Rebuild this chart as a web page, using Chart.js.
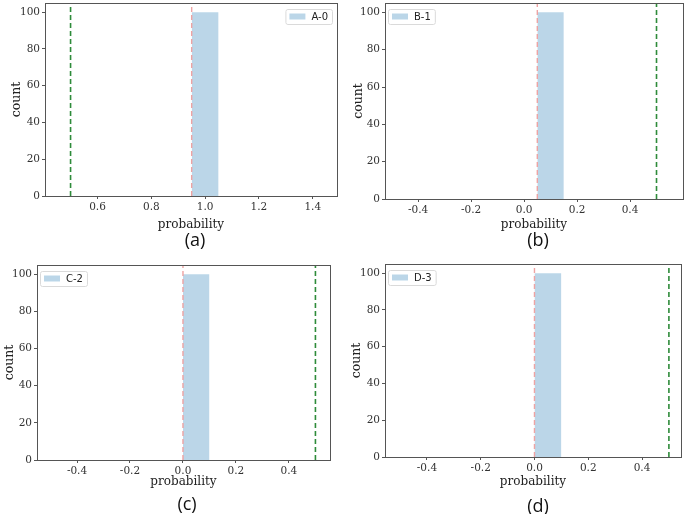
<!DOCTYPE html>
<html><head><meta charset="utf-8">
<script src="https://cdn.jsdelivr.net/npm/chart.js@4"></script>
<style>
html,body{margin:0;padding:0;background:#fff;}
#wrap{position:relative;width:685px;height:514px;overflow:hidden;}
canvas{position:absolute;}
.cap{position:absolute;font-family:"Open Sans",sans-serif;font-size:18px;color:#111;transform:translate(-50%,-50%);}
</style></head>
<body><div id="wrap"></div>
<script>
// ---- data ----
const panelNames = ['A-0', 'B-1', 'C-2', 'D-3'];
const captions = ['(a)', '(b)', '(c)', '(d)'];
const binLeft = [0.95, 0.05, 0.0, 0.0];
const binRight = [1.05, 0.15, 0.1, 0.1];
const binCounts = [100, 100, 100, 100];
const redLineX = [0.95, 0.05, 0.0, 0.0];
const greenLineX = [0.5, 0.5, 0.5, 0.5];
const xTicksA = [0.6, 0.8, 1.0, 1.2, 1.4];
const xTicksBCD = [-0.4, -0.2, 0.0, 0.2, 0.4];
const yTicks = [0, 20, 40, 60, 80, 100];
const xMin = [0.405, -0.525, -0.551, -0.556];
const xMax = [1.49, 0.60, 0.555, 0.545];
const yMax = 105;

// ---- layout (styling only) ----
const layout = [
  {left:0,   top:0,   w:342, h:232, yW:45, pt:3, pr:5, xH:36, titlePad:9, legendRight:true,  cap:[195,239]},
  {left:342, top:0,   w:343, h:232, yW:43, pt:3, pr:2, xH:33, titlePad:9, legendRight:false, cap:[538,239]},
  {left:0,   top:257, w:342, h:232, yW:37, pt:8, pr:12, xH:29, titlePad:2, legendRight:false, cap:[187,503]},
  {left:342, top:257, w:343, h:232, yW:43, pt:7, pr:4, xH:32, titlePad:7, legendRight:false, cap:[538,505]}
];

const frameColor = '#555';
const tickColor = '#333';

const framePlugin = {
  id:'frame',
  afterDraw(chart){
    const {ctx, chartArea:a} = chart;
    ctx.save();
    ctx.strokeStyle = frameColor; ctx.lineWidth = 1;
    ctx.strokeRect(Math.round(a.left)+0.5, Math.round(a.top)+0.5, Math.round(a.right-a.left), Math.round(a.bottom-a.top));
    // legend
    const o = chart.options.plugins.miniLegend;
    ctx.font = '10px "DejaVu Sans", sans-serif';
    const tw = ctx.measureText(o.text).width;
    const bw = 4 + 16 + 6 + tw + 4, bh = 15;
    const bx = o.right ? a.right - 5 - bw : a.left + 3;
    const by = a.top + 6;
    ctx.fillStyle = 'rgba(255,255,255,0.8)';
    ctx.strokeStyle = '#dadada';
    ctx.beginPath();
    if (ctx.roundRect) ctx.roundRect(bx+0.5, by+0.5, bw, bh, 2); else ctx.rect(bx+0.5, by+0.5, bw, bh);
    ctx.fill(); ctx.stroke();
    ctx.fillStyle = o.color;
    ctx.fillRect(bx+4, by+4.5, 16, 6);
    ctx.fillStyle = '#222';
    ctx.textBaseline = 'middle';
    ctx.fillText(o.text, bx+4+16+6, by+bh/2+1);
    ctx.restore();
  }
};

const wrap = document.getElementById('wrap');
const barColor = 'rgba(31,119,180,0.3)';
const serif = '"DejaVu Serif", serif';

for (let i = 0; i < 4; i++) {
  const L = layout[i];
  const cv = document.createElement('canvas');
  cv.width = L.w; cv.height = L.h;
  cv.style.left = L.left+'px'; cv.style.top = L.top+'px';
  cv.style.width = L.w+'px'; cv.style.height = L.h+'px';
  wrap.appendChild(cv);
  const cap = document.createElement('div');
  cap.className = 'cap'; cap.textContent = captions[i];
  cap.style.left = L.cap[0]+'px'; cap.style.top = L.cap[1]+'px';
  wrap.appendChild(cap);

  const xt = i === 0 ? xTicksA : xTicksBCD;
  const histPts = [
    {x:binLeft[i], y:0}, {x:binLeft[i], y:binCounts[i]},
    {x:binRight[i], y:binCounts[i]}, {x:binRight[i], y:0}
  ];
  new Chart(cv, {
    type:'scatter',
    data:{datasets:[
      {label:panelNames[i], data:histPts, showLine:true, fill:'origin',
       backgroundColor:barColor, borderWidth:0, borderColor:'rgba(0,0,0,0)', pointRadius:0, tension:0, order:3},
      {label:'thr', data:[{x:redLineX[i], y:0},{x:redLineX[i], y:yMax}], showLine:true,
       borderColor:'#eea3a3', borderWidth:1.4, borderDash:[5,3], pointRadius:0, order:1},
      {label:'ref', data:[{x:greenLineX[i], y:0},{x:greenLineX[i], y:yMax}], showLine:true,
       borderColor:'#2e8b3a', borderWidth:1.6, borderDash:[5,3], pointRadius:0, order:2}
    ]},
    options:{
      responsive:false, animation:false, devicePixelRatio:1,
      layout:{padding:{top:L.pt, right:L.pr, left:0, bottom:0}},
      plugins:{legend:{display:false}, tooltip:{enabled:false},
        miniLegend:{text:panelNames[i], right:L.legendRight, color:barColor}},
      scales:{
        x:{type:'linear', min:xMin[i], max:xMax[i],
          afterBuildTicks(ax){ ax.ticks = xt.map(v=>({value:v})); },
          afterFit(ax){ ax.height = L.xH; ax.paddingLeft = 0; ax.paddingRight = 0; },
          grid:{display:true, drawOnChartArea:false, drawTicks:true, tickLength:3, color:frameColor, tickColor:frameColor},
          border:{display:false},
          ticks:{color:tickColor, padding:2, maxRotation:0, autoSkip:false,
            font:{family:serif, size:10.5},
            callback:v=>v.toFixed(1)},
          title:{display:true, text:'probability', color:'#222', padding:{top:1,bottom:0},
            font:{family:serif, size:12}}
        },
        y:{type:'linear', min:0, max:yMax,
          afterBuildTicks(ax){ ax.ticks = yTicks.map(v=>({value:v})); },
          afterFit(ax){ ax.width = L.yW; ax.paddingTop = 0; ax.paddingBottom = 0; },
          grid:{display:true, drawOnChartArea:false, drawTicks:true, tickLength:3, color:frameColor, tickColor:frameColor},
          border:{display:false},
          ticks:{color:tickColor, padding:2, autoSkip:false,
            font:{family:serif, size:10.5}},
          title:{display:true, text:'count', color:'#222', padding:{top:L.titlePad,bottom:0},
            font:{family:serif, size:12.5}}
        }
      }
    },
    plugins:[framePlugin]
  });
}
</script></body></html>
